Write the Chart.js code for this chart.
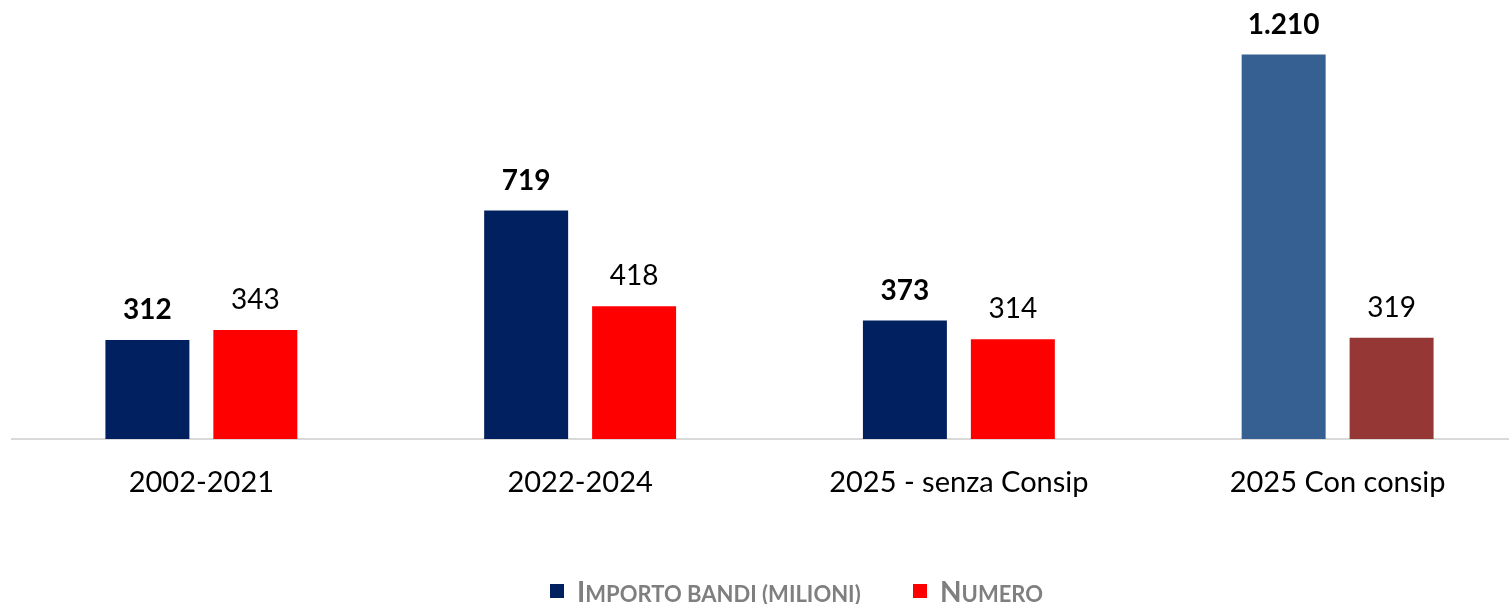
<!DOCTYPE html>
<html>
<head>
<meta charset="utf-8">
<script src="https://cdn.jsdelivr.net/npm/chart.js@4"></script>
<style>
  html, body { margin:0; padding:0; background:#fff; overflow:hidden; }
  #wrap { position:relative; width:1509px; height:604px; overflow:hidden; }
  #legend { position:absolute; left:0; top:573px; width:1509px; height:36px; font-family:Lato, "Open Sans", sans-serif; font-weight:bold; color:#7f7f7f; }
  .item { position:absolute; top:0; display:flex; align-items:baseline; height:36px; line-height:36px; }
  .sw { width:14px; height:14px; margin-right:13px; align-self:center; }
  .big { font-size:28px; }
  .small { font-size:22px; text-transform:uppercase; }
</style>
</head>
<body>
<div id="wrap">
  <canvas id="c" width="1527" height="604"></canvas>
  <div id="legend"></div>
</div>
<script>
const categories = ["2002-2021", "2022-2024", "2025 - senza Consip", "2025 Con consip"];
const importoBandi = [312, 719, 373, 1210];
const numero = [343, 418, 314, 319];
const seriesNames = ["Importo bandi (milioni)", "Numero"];

const importoColors = ["#002060", "#002060", "#002060", "#376092"];
const numeroColors = ["#FF0000", "#FF0000", "#FF0000", "#953735"];

const fontFamily = 'Lato, "Open Sans", sans-serif';

const labelPlugin = {
  id: 'valueLabels',
  afterDatasetsDraw(chart) {
    const ctx = chart.ctx;
    ctx.save();
    ctx.textAlign = 'center';
    ctx.textBaseline = 'middle';
    ctx.fillStyle = '#000';
    chart.data.datasets.forEach((ds, di) => {
      const meta = chart.getDatasetMeta(di);
      ctx.font = (di === 0 ? 'bold ' : '') + '28px ' + fontFamily;
      meta.data.forEach((bar, i) => {
        const txt = ds.data[i].toLocaleString('it-IT');
        ctx.fillText(txt, bar.x, bar.y - 30);
      });
    });
    ctx.restore();
  }
};

new Chart(document.getElementById('c'), {
  type: 'bar',
  data: {
    labels: categories,
    datasets: [
      { label: seriesNames[0], data: importoBandi, backgroundColor: importoColors, categoryPercentage: 0.570, barPercentage: 0.778 },
      { label: seriesNames[1], data: numero, backgroundColor: numeroColors, categoryPercentage: 0.570, barPercentage: 0.778 }
    ]
  },
  options: {
    responsive: false,
    animation: false,
    layout: { padding: { left: 12, right: 0, top: 26, bottom: 0 } },
    plugins: { legend: { display: false }, tooltip: { enabled: false } },
    scales: {
      x: {
        grid: { display: false, drawTicks: false },
        border: { display: true, color: '#d9d9d9', width: 2 },
        ticks: { color: '#000', font: { family: fontFamily, size: 29 }, padding: 26 },
        afterFit(scale) { scale.height = 165; }
      },
      y: {
        display: false,
        min: 0,
        max: 1300
      }
    }
  },
  plugins: [labelPlugin]
});

const legend = document.getElementById('legend');
const pos = [550, 913];
seriesNames.forEach((n, i) => {
  const d = document.createElement('div');
  d.className = 'item';
  d.style.left = pos[i] + 'px';
  const sw = document.createElement('span');
  sw.className = 'sw';
  sw.style.background = i === 0 ? importoColors[0] : numeroColors[0];
  const b = document.createElement('span');
  b.className = 'big';
  b.textContent = n.charAt(0);
  const s = document.createElement('span');
  s.className = 'small';
  s.textContent = n.slice(1);
  d.appendChild(sw); d.appendChild(b); d.appendChild(s);
  legend.appendChild(d);
});
</script>
</body>
</html>
